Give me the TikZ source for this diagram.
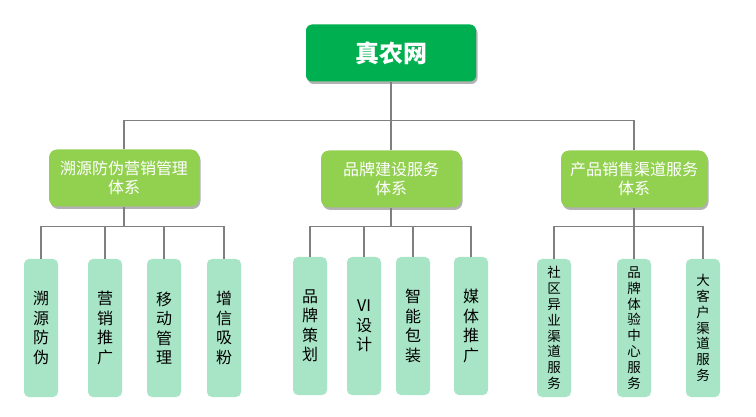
\documentclass[tikz,border=0pt]{standalone}
\usepackage{fontspec}
\setmainfont{Noto Sans CJK SC}
\usepackage{tikz}
\usetikzlibrary{shadows}

\definecolor{rootgreen}{RGB}{0,176,80}
\definecolor{midgreen}{RGB}{146,208,80}
\definecolor{leafmint}{RGB}{168,228,198}
\definecolor{linegray}{RGB}{127,127,127}

\begin{document}
\begin{tikzpicture}[x=1pt, y=-1pt,
  conn/.style={draw=linegray, line width=1.3pt},
  rootbox/.style={fill=rootgreen, rounded corners=6pt, minimum width=170pt, minimum height=57pt,
    text=white, font=\fontsize{24}{28}\selectfont\bfseries,
    drop shadow={shadow xshift=1.5pt, shadow yshift=-2.5pt, fill=black, opacity=0.3}},
  midbox/.style={fill=midgreen, rounded corners=8pt, minimum height=57pt, inner sep=0pt,
    text=white, align=center, font=\fontsize{16}{19}\selectfont,
    drop shadow={shadow xshift=1.5pt, shadow yshift=-2.5pt, fill=black, opacity=0.3}},
  leafbox/.style={fill=leafmint, rounded corners=5pt, minimum width=34pt, minimum height=138pt,
    inner sep=0pt, align=center, font=\fontsize{16}{19.5}\selectfont},
  smallleaf/.style={leafbox, font=\fontsize{13.5}{15.8}\selectfont}]
  \useasboundingbox (0,0) rectangle (756,417);

  % top level
  \node[rootbox] (root) at (391,53) {真农网};

  % second level
  \node[midbox, minimum width=150pt] (sys1) at (124,178) {溯源防伪营销管理\\体系};
  \node[midbox, minimum width=140pt] (sys2) at (391,179) {品牌建设服务\\体系};
  \node[midbox, minimum width=146pt] (sys3) at (634,179) {产品销售渠道服务\\体系};

  \draw[conn] (root.south) -- ++(0,39) coordinate (bus);
  \draw[conn] (sys1.north) |- (bus) -| (sys3.north);
  \draw[conn] (bus) -- (sys2.north);

  % third level
  \foreach \i/\x/\txt in {1/41/{溯\\源\\防\\伪}, 2/105/{营\\销\\推\\广},
                          3/164/{移\\动\\管\\理}, 4/224/{增\\信\\吸\\粉}}
    \node[leafbox] (a\i) at (\x,328) {\txt};
  \foreach \i/\x/\txt in {1/310/{品\\牌\\策\\划}, 2/364/{VI\\设\\计},
                          3/413/{智\\能\\包\\装}, 4/471/{媒\\体\\推\\广}}
    \node[leafbox] (b\i) at (\x,326) {\txt};
  \foreach \i/\x/\txt in {1/554/{社\\区\\异\\业\\渠\\道\\服\\务},
                          2/634/{品\\牌\\体\\验\\中\\心\\服\\务},
                          3/703/{大\\客\\户\\渠\\道\\服\\务}}
    \node[smallleaf] (c\i) at (\x,328) {\txt};

  \draw[conn] (sys1.south) -- ++(0,20) coordinate (busa);
  \draw[conn] (sys2.south) -- ++(0,19) coordinate (busb);
  \draw[conn] (sys3.south) -- ++(0,19) coordinate (busc);
  \foreach \i in {1,...,4} {
    \draw[conn] (a\i.north) |- (busa);
    \draw[conn] (b\i.north) |- (busb);
  }
  \foreach \i in {1,2,3}
    \draw[conn] (c\i.north) |- (busc);
\end{tikzpicture}
\end{document}
